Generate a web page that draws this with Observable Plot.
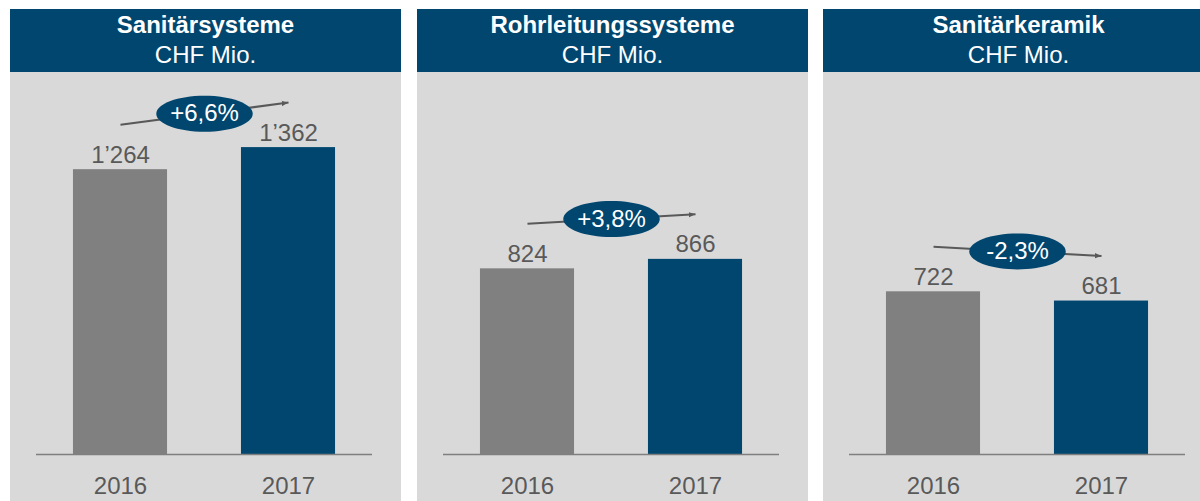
<!DOCTYPE html>
<html><head><meta charset="utf-8">
<script src="https://cdn.jsdelivr.net/npm/d3@7"></script>
<script src="https://cdn.jsdelivr.net/npm/@observablehq/plot@0.6"></script>
<style>
html,body{margin:0;padding:0;background:#fff;overflow:hidden;width:1200px;height:501px;}
#wrap{position:relative;width:1200px;height:501px;overflow:hidden;font-family:"Liberation Sans",Arial,sans-serif;}
.panel{position:absolute;top:9px;width:391px;}
.head{background:#00466f;color:#fff;height:63px;text-align:center;box-sizing:border-box;padding-top:1px;line-height:30px;}
.head .t{font-weight:bold;font-size:24px;display:block;}
.head .s{font-size:24px;display:block;}
.panel svg{display:block;}
</style>
</head><body><div id="wrap"></div>
<script>
// ---- data ----
const categories = ["Sanitärsysteme", "Rohrleitungssysteme", "Sanitärkeramik"];
const unitLabel = "CHF Mio.";
const years = [2016, 2017];
const values2016 = [1264, 824, 722];
const values2017 = [1362, 866, 681];
const changeLabels = ["+6,6%", "+3,8%", "-2,3%"];

// ---- styling ----
const BLUE = "#00466f", GREY = "#808080", TEXT = "#595959", BG = "#d9d9d9";
const fmt = d3.formatLocale({decimal: ",", thousands: "\u2019", grouping: [3], currency: ["", ""]}).format(",d");
const lefts = [10, 417, 823];

const ellipse = {
  draw(ctx, size) {
    const ry = Math.sqrt(size / Math.PI), rx = ry * 2.68, k = 0.5523;
    ctx.moveTo(rx, 0);
    ctx.bezierCurveTo(rx, ry * k, rx * k, ry, 0, ry);
    ctx.bezierCurveTo(-rx * k, ry, -rx, ry * k, -rx, 0);
    ctx.bezierCurveTo(-rx, -ry * k, -rx * k, -ry, 0, -ry);
    ctx.bezierCurveTo(rx * k, -ry, rx, -ry * k, rx, 0);
    ctx.closePath();
  }
};

const wrap = document.getElementById("wrap");
categories.forEach((cat, i) => {
  const rows = years.map((yr, j) => ({year: yr, value: [values2016, values2017][j][i]}));
  const trend = [{
    x1: years[0], y1: values2016[i], x2: years[1], y2: values2017[i],
    xm: (years[0] + years[1]) / 2, ym: (values2016[i] + values2017[i]) / 2,
    label: changeLabels[i]
  }];
  const svg = Plot.plot({
    width: 391, height: 429,
    marginLeft: 26, marginRight: 29, marginTop: 44, marginBottom: 47,
    style: {background: BG, fontFamily: "Liberation Sans, Arial, sans-serif", overflow: "visible"},
    x: {domain: [2015.5, 2017.5], axis: null},
    y: {domain: [0, 1500], axis: null},
    color: {type: "ordinal", domain: years, range: [GREY, BLUE]},
    marks: [
      Plot.rectY(rows, {x1: d => d.year - 0.28, x2: d => d.year + 0.28, y: "value", fill: "year"}),
      Plot.ruleY([0], {stroke: "#7f7f7f", strokeWidth: 1.5}),
      Plot.text(rows, {x: "year", y: "value", text: d => fmt(d.value), dy: -7, lineAnchor: "bottom", fontSize: 24, fill: TEXT}),
      Plot.text(rows, {x: "year", text: d => String(d.year), frameAnchor: "bottom", dy: 39, lineAnchor: "bottom", fontSize: 24, fill: TEXT}),
      Plot.link(trend, {x1: "x1", y1: "y1", x2: "x2", y2: "y2", dy: -45, stroke: TEXT, strokeWidth: 2, markerEnd: "arrow"}),
      Plot.dot(trend, {x: "xm", y: "ym", dy: -45, r: 18, symbol: ellipse, fill: BLUE, stroke: "none"}),
      Plot.text(trend, {x: "xm", y: "ym", dy: -45, text: "label", fill: "white", fontSize: 24})
    ]
  });
  svg.querySelectorAll("marker").forEach(m => {
    m.querySelectorAll("path").forEach(p => {
      p.setAttribute("d", "M-6.7,-2.6L0,0L-6.7,2.6L-5.4,0Z");
      p.setAttribute("fill", TEXT);
      p.setAttribute("stroke", "none");
    });
  });
  const panel = document.createElement("div");
  panel.className = "panel";
  panel.style.left = lefts[i] + "px";
  const head = document.createElement("div");
  head.className = "head";
  const t = document.createElement("span"); t.className = "t"; t.textContent = cat;
  const s = document.createElement("span"); s.className = "s"; s.textContent = unitLabel;
  head.append(t, s);
  panel.append(head, svg);
  wrap.append(panel);
});
</script>
</body></html>
